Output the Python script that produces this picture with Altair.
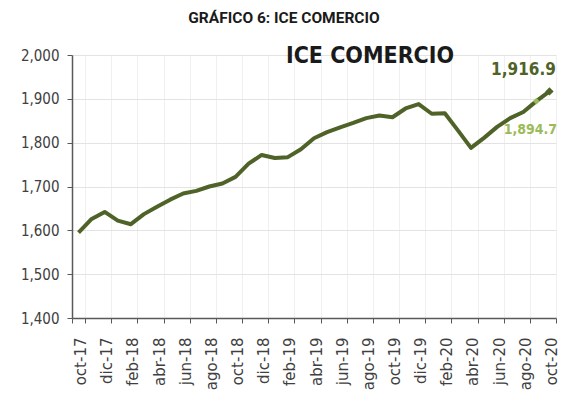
import altair as alt
import pandas as pd

main_title = "GRÁFICO 6: ICE COMERCIO"
inner_title = "ICE COMERCIO"

months = ["oct-17", "nov-17", "dic-17", "ene-18", "feb-18", "mar-18", "abr-18",
          "may-18", "jun-18", "jul-18", "ago-18", "sep-18", "oct-18", "nov-18",
          "dic-18", "ene-19", "feb-19", "mar-19", "abr-19", "may-19", "jun-19",
          "jul-19", "ago-19", "sep-19", "oct-19", "nov-19", "dic-19", "ene-20",
          "feb-20", "mar-20", "abr-20", "may-20", "jun-20", "jul-20", "ago-20",
          "sep-20", "oct-20"]
values = [1595, 1626, 1642, 1622, 1614, 1637, 1654, 1670, 1684, 1690, 1700,
          1707, 1722, 1752, 1772, 1765, 1767, 1785, 1810, 1824, 1835, 1845,
          1856, 1862, 1858, 1878, 1888, 1866, 1867, 1828, 1788, 1811, 1836,
          1856, 1870, 1894.7, 1916.9]
tick_labels = months[::2]
y_ticks = [1400, 1500, 1600, 1700, 1800, 1900, 2000]

df = pd.DataFrame({"month": months, "value": values})
df["label"] = df["value"].map(lambda v: f"{v:,.1f}")

DARK = "#4F6228"
LIGHT = "#9BBB59"
NARROW = "DejaVu Sans Condensed, Lato, sans-serif"

x_enc = alt.X("month:N", sort=months,
              scale=alt.Scale(paddingInner=0, paddingOuter=0),
              axis=alt.Axis(values=tick_labels, labelAngle=270, tickBand="extent",
                            title=None, labelFont="DejaVu Sans", labelFontSize=15,
                            labelColor="#404040", labelPadding=14, labelOffset=2,
                            tickSize=5, tickColor="#595959", domainColor="#595959",
                            domainWidth=1.5, gridColor="#F0F0F0", grid=True))
y_enc = alt.Y("value:Q",
              scale=alt.Scale(domain=[1400, 2000], nice=False, zero=False),
              axis=alt.Axis(values=y_ticks, format=",d", title=None,
                            labelFont=NARROW, labelFontSize=15,
                            labelColor="#404040", labelPadding=8, tickSize=5,
                            tickColor="#595959", domainColor="#595959",
                            domainWidth=1.5, gridColor="#E3E3E3"))

base = alt.Chart(df).encode(x=x_enc, y=y_enc)

line = base.mark_line(color=DARK, strokeWidth=4, strokeJoin="round")

pt_last = base.mark_point(shape="diamond", filled=True, color=DARK, size=70,
                          opacity=1).transform_filter(alt.datum.month == "oct-20")
pt_prev = base.mark_point(shape="diamond", filled=True, color=LIGHT, size=45,
                          opacity=1).transform_filter(alt.datum.month == "sep-20")

lbl_last = base.mark_text(color=DARK, fontSize=17, fontWeight="bold",
                          font=NARROW, dx=-26, dy=-21
                          ).encode(text="label:N").transform_filter(alt.datum.month == "oct-20")
lbl_prev = base.mark_text(color=LIGHT, fontSize=14, fontWeight="bold",
                          font=NARROW, dx=-6, dy=29
                          ).encode(text="label:N").transform_filter(alt.datum.month == "sep-20")

t_main = alt.Chart(pd.DataFrame({"t": [main_title]})).mark_text(
    font="Roboto", fontSize=15.5, fontWeight="bold", color="#1a1a1a",
    align="center", baseline="middle").encode(
    text="t:N", x=alt.value(212), y=alt.value(-37))
t_inner = alt.Chart(pd.DataFrame({"t": [inner_title]})).mark_text(
    font=NARROW, fontSize=23, fontWeight="bold", color="#1a1a1a",
    align="center", baseline="middle").encode(
    text="t:N", x=alt.value(298), y=alt.value(1))

chart = alt.layer(line, pt_prev, pt_last, lbl_last, lbl_prev, t_main, t_inner).properties(
    width=484, height=263,
    autosize=alt.AutoSizeParams(type="none"),
    padding={"left": 64, "top": 47, "right": 5, "bottom": 79},
    background="white",
).configure_view(stroke=None)

chart.save("out.html", embed_options={"renderer": "svg", "actions": False})
